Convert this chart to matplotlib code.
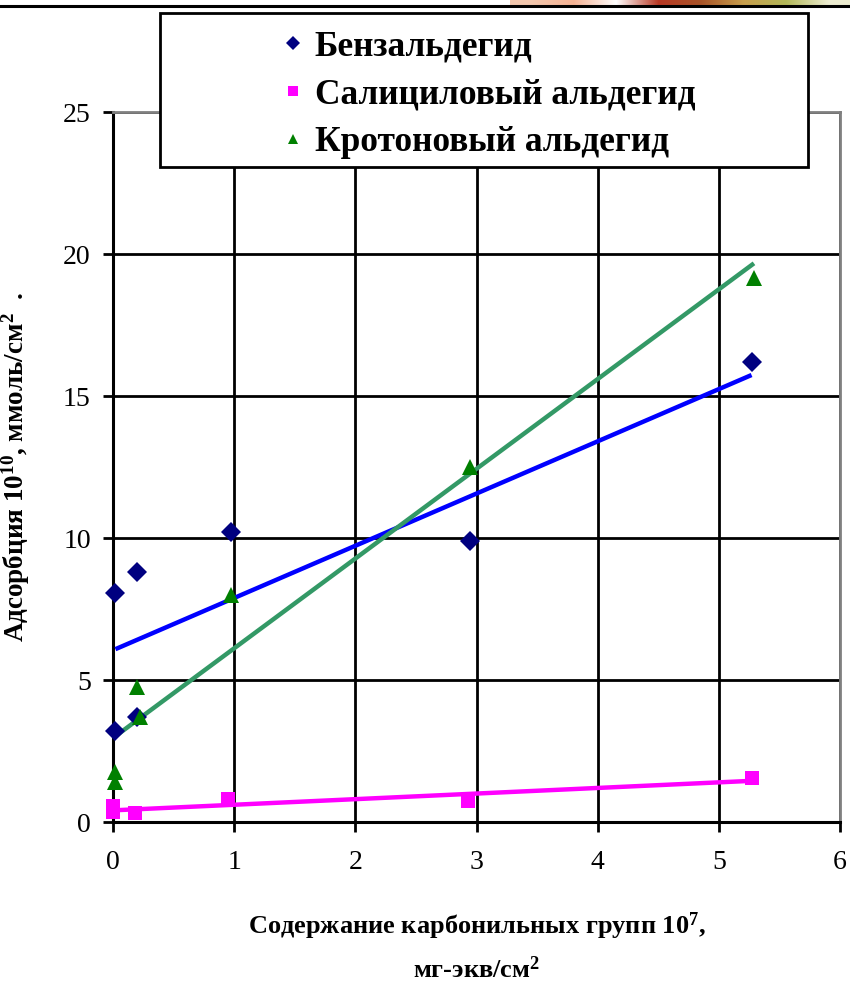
import numpy as np
import matplotlib
matplotlib.use('Agg')
import matplotlib.pyplot as plt
from matplotlib.lines import Line2D
from matplotlib.patches import Rectangle

plt.rcParams['font.family'] = ['Liberation Serif', 'DejaVu Serif']
plt.rcParams['mathtext.fontset'] = 'custom'
plt.rcParams['mathtext.rm'] = 'Liberation Serif'
plt.rcParams['mathtext.bf'] = 'Liberation Serif:bold'

# ---- data ----
benz_x = [0.02, 0.20, 0.97, 0.02, 0.20, 2.95, 5.27]
benz_y = [8.05, 8.80, 10.20, 3.20, 3.70, 9.90, 16.20]

salic_x = [0.00, 0.00, 0.18, 0.95, 2.93, 5.27]
salic_y = [0.55, 0.35, 0.30, 0.80, 0.75, 1.55]

kroton_x = [0.02, 0.02, 0.20, 0.22, 0.97, 2.95, 5.29]
kroton_y = [1.75, 1.40, 4.75, 3.70, 8.00, 12.50, 19.15]

names = ['Бензальдегид', 'Салициловый альдегид', 'Кротоновый альдегид']
x_ticks = [0, 1, 2, 3, 4, 5, 6]
y_ticks = [0, 5, 10, 15, 20, 25]

# ---- figure ----
fig = plt.figure(figsize=(8.5, 9.83), dpi=100)
ax = fig.add_axes([113/850, 1-822/983, 727/850, 710/983])

series = [
    (benz_x, benz_y, 'D', '#000080', '#0000FF', 10),
    (salic_x, salic_y, 's', '#FF00FF', '#FF00FF', 10),
    (kroton_x, kroton_y, '^', '#008000', '#339966', 11),
]

handles = []
for (xs, ys, mk, mcol, lcol, ms), nm in zip(series, names):
    xs = np.array(xs)
    ys = np.array(ys)
    # linear trend line over the data range
    k, b = np.polyfit(xs, ys, 1)
    xl = np.array([xs.min(), xs.max()])
    ax.plot(xl, k*xl + b, color=lcol, lw=3.2, zorder=3, solid_capstyle='butt')
    ax.plot(xs, ys, ls='none', marker=mk, ms=ms, color=mcol,
            markeredgewidth=0, zorder=4, clip_on=False)
    handles.append(Line2D([], [], ls='none', marker=mk, ms=7, color=mcol,
                          markeredgewidth=0, label=nm))

ax.set_xlim(0, 6)
ax.set_ylim(0, 25)
ax.set_xticks(x_ticks)
ax.set_yticks(y_ticks)
ax.grid(True, color='black', lw=2)
ax.set_axisbelow(True)

for s in ['left', 'bottom']:
    ax.spines[s].set_color('black')
    ax.spines[s].set_linewidth(2.2)
for s in ['top', 'right']:
    ax.spines[s].set_color('#808080')
    ax.spines[s].set_linewidth(2)

ax.tick_params(axis='both', direction='out', length=7, width=2,
               labelsize=20, color='black')
ax.tick_params(axis='x', pad=13)
ax.tick_params(axis='y', pad=9)

ax.set_xlabel('Содержание карбонильных групп $\\mathbf{10^7}$,\nмг-экв/см$\\mathbf{^2}$',
              fontsize=19, fontweight='bold', labelpad=26, linespacing=1.65)
ax.set_ylabel('Адсорбция $\\mathbf{10^{10}}$, ммоль/см$\\mathbf{^2}$  .',
              fontsize=19.5, fontweight='bold')
ax.yaxis.set_label_coords(-0.112, 0.5)

# legend frame and entries
fig.add_artist(Rectangle((160/850, 1-167/983), 648/850, 154/983,
                         transform=fig.transFigure, facecolor='white',
                         edgecolor='black', lw=2, zorder=5))
leg = fig.legend(handles=handles, loc='center',
                 bbox_to_anchor=(489/850, 1-95/983), frameon=False,
                 prop={'family': 'Liberation Serif', 'weight': 'bold', 'size': 25.5},
                 handlelength=0.6, handletextpad=0.3, labelspacing=0.42)
leg.set_zorder(6)

# top decoration: black rule and coloured strip
fig.add_artist(Line2D([0, 1], [1-6/983, 1-6/983], transform=fig.transFigure,
                      color='black', lw=2.2))
strip = fig.add_axes([510/850, 1-5/983, 340/850, 5/983])
cols = np.array([[0.95, 0.78, 0.68], [0.96, 0.70, 0.58], [1.0, 1.0, 1.0],
                 [0.72, 0.22, 0.14], [0.66, 0.33, 0.16], [0.78, 0.62, 0.30],
                 [0.70, 0.72, 0.35], [0.93, 0.93, 0.82]])
strip.imshow(cols[np.newaxis, :, :], aspect='auto', interpolation='bilinear')
strip.axis('off')

plt.savefig('out.png', dpi=100)
plt.close()
